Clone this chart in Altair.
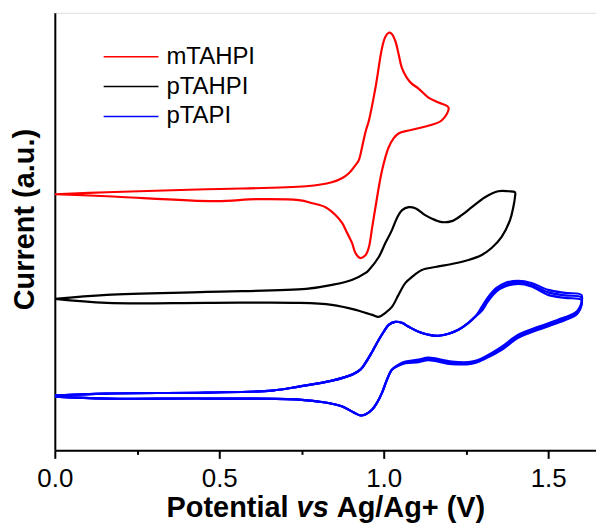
import altair as alt
import pandas as pd

# Cyclic voltammograms (potential in V vs Ag/Ag+, current in arbitrary units, curves offset vertically)
names = ["mTAHPI", "pTAHPI", "pTAPI"]
colors = ["#ff0000", "#000000", "#0000ff"]

red_v = [0.000, 0.158, 0.461, 0.764, 0.842, 0.873, 0.894, 0.909, 0.924, 0.934, 0.945, 0.955, 0.975, 0.995, 1.005, 1.015,
         1.024, 1.035, 1.045, 1.055, 1.070, 1.085, 1.106, 1.136, 1.167, 1.197,
         1.176, 1.115, 1.076, 1.045, 1.030, 1.015, 1.005, 0.995, 0.985, 0.975, 0.965, 0.955, 0.945, 0.929, 0.914,
         0.904, 0.889, 0.874, 0.854, 0.823, 0.783, 0.742, 0.612, 0.491, 0.158, 0.000]
red_i = [2.57, 2.59, 2.62, 2.65, 2.69, 2.73, 2.78, 2.84, 2.91, 3.04, 3.20, 3.31, 3.64, 4.04, 4.15, 4.19,
         4.18, 4.11, 3.98, 3.84, 3.74, 3.68, 3.63, 3.54, 3.49, 3.44,
         3.31, 3.24, 3.21, 3.18, 3.13, 3.04, 2.94, 2.81, 2.64, 2.44, 2.24, 2.04, 1.96, 1.93, 1.98,
         2.08, 2.18, 2.28, 2.36, 2.44, 2.48, 2.51, 2.52, 2.50, 2.55, 2.57]

black_v = [0.000, 0.158, 0.461, 0.764, 0.842, 0.903, 0.945, 0.955, 0.985, 1.005, 1.025, 1.040, 1.056, 1.076, 1.096, 1.126,
           1.157, 1.177, 1.207, 1.237, 1.268, 1.308, 1.348, 1.379, 1.399,
           1.399, 1.394, 1.384, 1.358, 1.328, 1.298, 1.258, 1.207, 1.157, 1.116, 1.086, 1.066, 1.045, 1.025, 1.005,
           0.985, 0.965, 0.945, 0.915, 0.842, 0.742, 0.461, 0.158, 0.000]
black_i = [1.52, 1.56, 1.59, 1.62, 1.66, 1.71, 1.78, 1.81, 1.94, 2.08, 2.21, 2.33, 2.41, 2.44, 2.43, 2.36,
           2.31, 2.29, 2.30, 2.36, 2.44, 2.54, 2.60, 2.60, 2.59,
           2.54, 2.44, 2.31, 2.14, 2.03, 1.96, 1.91, 1.87, 1.84, 1.81, 1.74, 1.68, 1.56, 1.44, 1.38,
           1.34, 1.36, 1.38, 1.41, 1.46, 1.48, 1.48, 1.48, 1.52]

blue_v = [0.000, 0.158, 0.461, 0.661, 0.742, 0.843, 0.904, 0.929, 0.945, 0.965, 0.985, 1.000, 1.015, 1.035, 1.055, 1.076,
          1.106, 1.136, 1.167, 1.227, 1.278, 1.298, 1.318, 1.343, 1.369, 1.409, 1.449, 1.500, 1.551, 1.601,
          1.601, 1.591, 1.581, 1.530, 1.470, 1.409, 1.359, 1.308, 1.268, 1.207, 1.136, 1.106, 1.066, 1.045, 1.025,
          1.010, 0.995, 0.980, 0.965, 0.944, 0.929, 0.909, 0.874, 0.823, 0.742, 0.461, 0.158, 0.000]
blue_i = [0.55, 0.57, 0.58, 0.60, 0.64, 0.70, 0.76, 0.81, 0.88, 0.99, 1.11, 1.19, 1.26, 1.29, 1.28, 1.24,
          1.19, 1.16, 1.15, 1.21, 1.34, 1.44, 1.54, 1.63, 1.68, 1.70, 1.68, 1.61, 1.58, 1.56,
          1.48, 1.41, 1.38, 1.31, 1.24, 1.16, 1.04, 0.94, 0.89, 0.89, 0.93, 0.91, 0.89, 0.86, 0.81,
          0.71, 0.58, 0.48, 0.41, 0.36, 0.35, 0.38, 0.44, 0.48, 0.51, 0.52, 0.52, 0.54]
# later cycles of pTAPI: current drifts lower at high potential
blue_i2 = [0.55, 0.57, 0.58, 0.60, 0.64, 0.70, 0.76, 0.81, 0.88, 0.99, 1.11, 1.19, 1.26, 1.29, 1.28, 1.24,
           1.19, 1.16, 1.15, 1.21, 1.34, 1.42, 1.52, 1.61, 1.66, 1.685, 1.66, 1.585, 1.555, 1.535,
           1.465, 1.395, 1.365, 1.295, 1.225, 1.145, 1.025, 0.93, 0.88, 0.877, 0.917, 0.897, 0.883, 0.855, 0.81,
           0.71, 0.58, 0.48, 0.41, 0.36, 0.35, 0.38, 0.44, 0.48, 0.51, 0.52, 0.52, 0.54]
blue_i3 = [0.55, 0.57, 0.58, 0.60, 0.64, 0.70, 0.76, 0.81, 0.88, 0.99, 1.11, 1.19, 1.26, 1.29, 1.28, 1.24,
           1.19, 1.16, 1.15, 1.21, 1.34, 1.40, 1.50, 1.595, 1.645, 1.67, 1.645, 1.56, 1.53, 1.51,
           1.45, 1.38, 1.35, 1.28, 1.21, 1.13, 1.01, 0.92, 0.87, 0.865, 0.905, 0.885, 0.875, 0.85, 0.81,
           0.71, 0.58, 0.48, 0.41, 0.36, 0.35, 0.38, 0.44, 0.48, 0.51, 0.52, 0.52, 0.54]

curves = [
    ("mTAHPI", "m1", red_v, red_i),
    ("pTAHPI", "p1", black_v, black_i),
    ("pTAPI", "b1", blue_v, blue_i),
    ("pTAPI", "b2", blue_v, blue_i2),
    ("pTAPI", "b3", blue_v, blue_i3),
]
rows = []
for name, cyc, vs, cur in curves:
    for k, (v, c) in enumerate(zip(vs, cur)):
        rows.append({"compound": name, "cycle": cyc, "step": k, "E": v, "I": c})
df = pd.DataFrame(rows)

W, H = 543, 439
FONT = "Liberation Sans"
color_scale = alt.Scale(domain=names, range=colors)
major = "abs(datum.value*2 - round(datum.value*2)) < 0.01"

lines = alt.Chart(df).mark_line(interpolate="catmull-rom", strokeWidth=2.2, clip=True).encode(
    x=alt.X("E:Q", scale=alt.Scale(domain=[0, W / 330], nice=False, zero=False),
            axis=alt.Axis(values=[0, 0.25, 0.5, 0.75, 1.0, 1.25, 1.5],
                          labelExpr=f"{major} ? format(datum.value, '.1f') : ''",
                          tickSize={"condition": {"test": major, "value": 8}, "value": 4},
                          tickWidth=2, tickColor="black", domainColor="black", domainWidth=2,
                          labelFont=FONT, labelFontSize=26, labelColor="black", labelPadding=7,
                          labelFlush=False, grid=False, title=None)),
    y=alt.Y("I:Q", scale=alt.Scale(domain=[0, 4.39], nice=False, zero=False),
            axis=alt.Axis(ticks=False, labels=False, grid=False, domainColor="black", domainWidth=2,
                          title="Current (a.u.)", titleFont=FONT, titleFontSize=29, titleFontWeight="bold",
                          titleColor="black", titlePadding=15, titleY=207)),
    color=alt.Color("compound:N", scale=color_scale, legend=None),
    detail="cycle:N",
    order="step:Q",
)

leg_df = pd.DataFrame({"compound": names})
leg_y = alt.Y("compound:N", scale=alt.Scale(type="point", domain=names, range=[44, 104], padding=0), axis=None)
leg_lines = alt.Chart(leg_df).mark_rule(strokeWidth=1.5).encode(
    x=alt.value(49), x2=alt.value(104), y=leg_y,
    color=alt.Color("compound:N", scale=color_scale, legend=None),
)
leg_text = alt.Chart(leg_df).mark_text(align="left", baseline="middle", font=FONT, fontSize=24, color="black").encode(
    x=alt.value(112), y=leg_y, text="compound:N",
)

# x-axis title with italic "vs"
def title_part(txt, x, align, style):
    return alt.Chart(pd.DataFrame({"t": [txt]})).mark_text(
        align=align, baseline="alphabetic", font=FONT, fontSize=29, fontWeight="bold",
        fontStyle=style, color="black").encode(x=alt.value(x), y=alt.value(506), text="t:N")

xt1 = title_part("Potential", 234.5, "right", "normal")
xt2 = title_part("vs", 242.6, "left", "italic")
xt3 = title_part("Ag/Ag+ (V)", 282.9, "left", "normal")

chart = alt.layer(lines, leg_lines, leg_text, xt1, xt2, xt3).resolve_scale(y="independent").properties(
    width=W, height=H, autosize="none",
    padding={"left": 55, "top": 12, "right": 0, "bottom": 75},
).configure_view(stroke="black", strokeWidth=2).configure(background="white")

chart.save("out.html", embed_options={"renderer": "svg", "actions": False})
